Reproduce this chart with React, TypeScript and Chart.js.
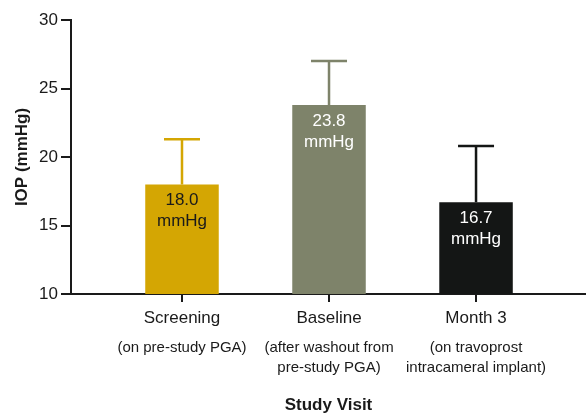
import React, { useEffect, useRef } from "react";
import { Chart, registerables } from "chart.js";

Chart.register(...registerables);

const categories = ["Screening", "Baseline", "Month 3"];
const subLabels = [
  ["(on pre-study PGA)"],
  ["(after washout from", "pre-study PGA)"],
  ["(on travoprost", "intracameral implant)"],
];
const meanIOP = [18.0, 23.8, 16.7];
const sdIOP = [3.3, 3.2, 4.1];
const yTicks = [10, 15, 20, 25, 30];
const barColors = ["#D4A603", "#7E836A", "#141615"];
const labelColors = ["#1a1a1a", "#ffffff", "#ffffff"];

const FONT = "'Liberation Sans', Arial, Helvetica, sans-serif";
const AXIS = "#1a1a1a";

const overlayPlugin = {
  id: "overlay",
  afterDatasetsDraw(chart: any) {
    const ctx = chart.ctx;
    const meta = chart.getDatasetMeta(0);
    const yScale = chart.scales.y;
    ctx.save();
    meta.data.forEach((bar: any, i: number) => {
      const x = bar.x;
      const top = bar.y;
      const errY = yScale.getPixelForValue(meanIOP[i] + sdIOP[i]);
      ctx.strokeStyle = barColors[i];
      ctx.lineWidth = 2.5;
      ctx.beginPath();
      ctx.moveTo(x, top);
      ctx.lineTo(x, errY);
      ctx.moveTo(x - 18, errY);
      ctx.lineTo(x + 18, errY);
      ctx.stroke();
      ctx.fillStyle = labelColors[i];
      ctx.font = `17px ${FONT}`;
      ctx.textAlign = "center";
      ctx.textBaseline = "alphabetic";
      ctx.fillText(meanIOP[i].toFixed(1), x, top + 21);
      ctx.fillText("mmHg", x, top + 42);
    });
    ctx.restore();
  },
  afterDraw(chart: any) {
    const ctx = chart.ctx;
    const xScale = chart.scales.x;
    ctx.save();
    ctx.fillStyle = "#1a1a1a";
    ctx.font = `15px ${FONT}`;
    ctx.textAlign = "center";
    ctx.textBaseline = "alphabetic";
    subLabels.forEach((lines, i) => {
      const x = xScale.getPixelForValue(i);
      lines.forEach((t, j) => {
        ctx.fillText(t, x, 352 + j * 20);
      });
    });
    ctx.restore();
  },
};

export default function App() {
  const ref = useRef<HTMLCanvasElement>(null);
  useEffect(() => {
    document.body.style.margin = "0";
    const chart = new Chart(ref.current as HTMLCanvasElement, {
      type: "bar",
      data: {
        datasets: [
          {
            data: meanIOP.map((v, i) => ({ x: i, y: v })),
            backgroundColor: barColors,
            borderWidth: 0,
            categoryPercentage: 1,
            barPercentage: 0.5,
          },
        ],
      },
      options: {
        animation: false,
        responsive: false,
        layout: { padding: { top: 20, right: 0, left: 0, bottom: 0 } },
        plugins: { legend: { display: false }, tooltip: { enabled: false } },
        scales: {
          x: {
            type: "linear",
            offset: false,
            min: -0.755,
            max: 2.748,
            afterBuildTicks: (s: any) => {
              s.ticks = categories.map((_, i) => ({ value: i }));
            },
            afterFit: (s: any) => {
              s.height = 120;
            },
            ticks: {
              callback: (v: any) => categories[v as number] ?? "",
              font: { family: FONT, size: 17 },
              color: "#1a1a1a",
              padding: 6,
              maxRotation: 0,
              autoSkip: false,
            },
            grid: {
              display: true,
              offset: false,
              drawOnChartArea: false,
              drawTicks: true,
              tickLength: 8,
              color: AXIS,
              lineWidth: 2,
            },
            border: { display: true, color: AXIS, width: 2 },
            title: {
              display: true,
              text: "Study Visit",
              font: { family: FONT, size: 17, weight: "bold" },
              color: "#1a1a1a",
              padding: { top: 0, bottom: -2 },
            },
          },
          y: {
            min: 10,
            max: 30,
            beginAtZero: false,
            afterBuildTicks: (s: any) => {
              s.ticks = yTicks.map((v) => ({ value: v }));
            },
            afterFit: (s: any) => {
              s.width = 71;
            },
            ticks: {
              font: { family: FONT, size: 17 },
              color: "#1a1a1a",
              padding: 3,
            },
            grid: {
              display: true,
              drawOnChartArea: false,
              drawTicks: true,
              tickLength: 10,
              color: AXIS,
              lineWidth: 2,
            },
            border: { display: true, color: AXIS, width: 2 },
            title: {
              display: true,
              text: "IOP (mmHg)",
              font: { family: FONT, size: 17, weight: "bold" },
              color: "#1a1a1a",
              padding: { top: 12, bottom: 0 },
            },
          },
        },
      },
      plugins: [overlayPlugin],
    } as any);
    return () => chart.destroy();
  }, []);
  return (
    <div style={{ position: "fixed", left: 0, top: 0, width: 586, height: 414 }}>
      <canvas ref={ref} width={586} height={414} />
    </div>
  );
}
